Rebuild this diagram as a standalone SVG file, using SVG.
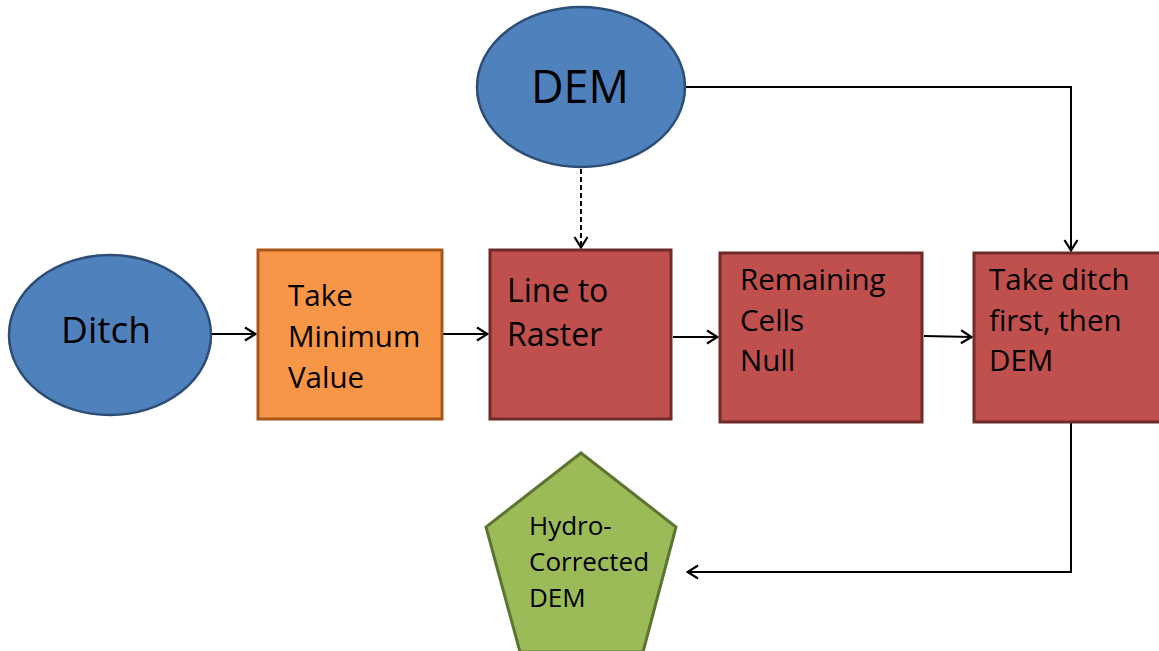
<svg xmlns="http://www.w3.org/2000/svg" width="1159" height="651" viewBox="0 0 1159 651">
<defs>
<marker id="arr" viewBox="0 0 14 16" refX="13" refY="8" markerWidth="14" markerHeight="16" markerUnits="userSpaceOnUse" orient="auto">
<path d="M2,1.5 L12.5,8 L2,14.5" fill="none" stroke="#000" stroke-width="2.2"/>
</marker>
<style>
.ell{fill:#4F81BD;stroke:#2C4D75;stroke-width:2.5}
.red{fill:#C0504D;stroke:#6E2B29;stroke-width:3}
.org{fill:#F79646;stroke:#A9561A;stroke-width:3}
.grn{fill:#9BBB59;stroke:#5B7530;stroke-width:3}
.t{font-family:"Open Sans","Liberation Sans",sans-serif;fill:#000}
.c{fill:none;stroke:#000;stroke-width:2;marker-end:url(#arr)}
</style>
</defs>
<rect width="1159" height="651" fill="#fff"/>
<g id="connectors">
<path class="c" d="M581,169 V248" stroke-dasharray="5,3"/>
<path class="c" d="M685,87 H1071 V251"/>
<path class="c" d="M211,334 H256"/>
<path class="c" d="M443,334 H488"/>
<path class="c" d="M673,337 H718"/>
<path class="c" d="M924,336 L972,337"/>
<path class="c" d="M1071,423 V572 H687"/>
</g>
<g id="dem">
<ellipse class="ell" cx="581" cy="87" rx="104" ry="80"/>
<text class="t" x="580" y="103" font-size="45" text-anchor="middle">DEM</text>
</g>
<g id="ditch">
<ellipse class="ell" cx="110" cy="335" rx="101" ry="80"/>
<text class="t" x="106" y="343" font-size="37" text-anchor="middle">Ditch</text>
</g>
<g id="take-minimum">
<rect class="org" x="258" y="250" width="184" height="169"/>
<text class="t" font-size="29.5"><tspan x="288" y="306">Take</tspan><tspan x="288" y="347">Minimum</tspan><tspan x="288" y="388">Value</tspan></text>
</g>
<g id="line-to-raster">
<rect class="red" x="490" y="250" width="181" height="169"/>
<text class="t" font-size="32"><tspan x="507" y="302">Line to</tspan><tspan x="507" y="346">Raster</tspan></text>
</g>
<g id="remaining">
<rect class="red" x="720" y="253" width="202" height="169"/>
<text class="t" font-size="29.5"><tspan x="740" y="290">Remaining</tspan><tspan x="740" y="331">Cells</tspan><tspan x="740" y="371">Null</tspan></text>
</g>
<g id="take-ditch">
<rect class="red" x="974" y="253" width="190" height="169"/>
<text class="t" font-size="29.5"><tspan x="989" y="290">Take ditch</tspan><tspan x="989" y="331">first, then</tspan><tspan x="989" y="371">DEM</tspan></text>
</g>
<g id="hydro-dem">
<polygon class="grn" points="581,453 676,527 643,652 520,652 486,527"/>
<text class="t" font-size="26"><tspan x="529" y="535">Hydro-</tspan><tspan x="529" y="571">Corrected</tspan><tspan x="529" y="607">DEM</tspan></text>
</g>
</svg>
